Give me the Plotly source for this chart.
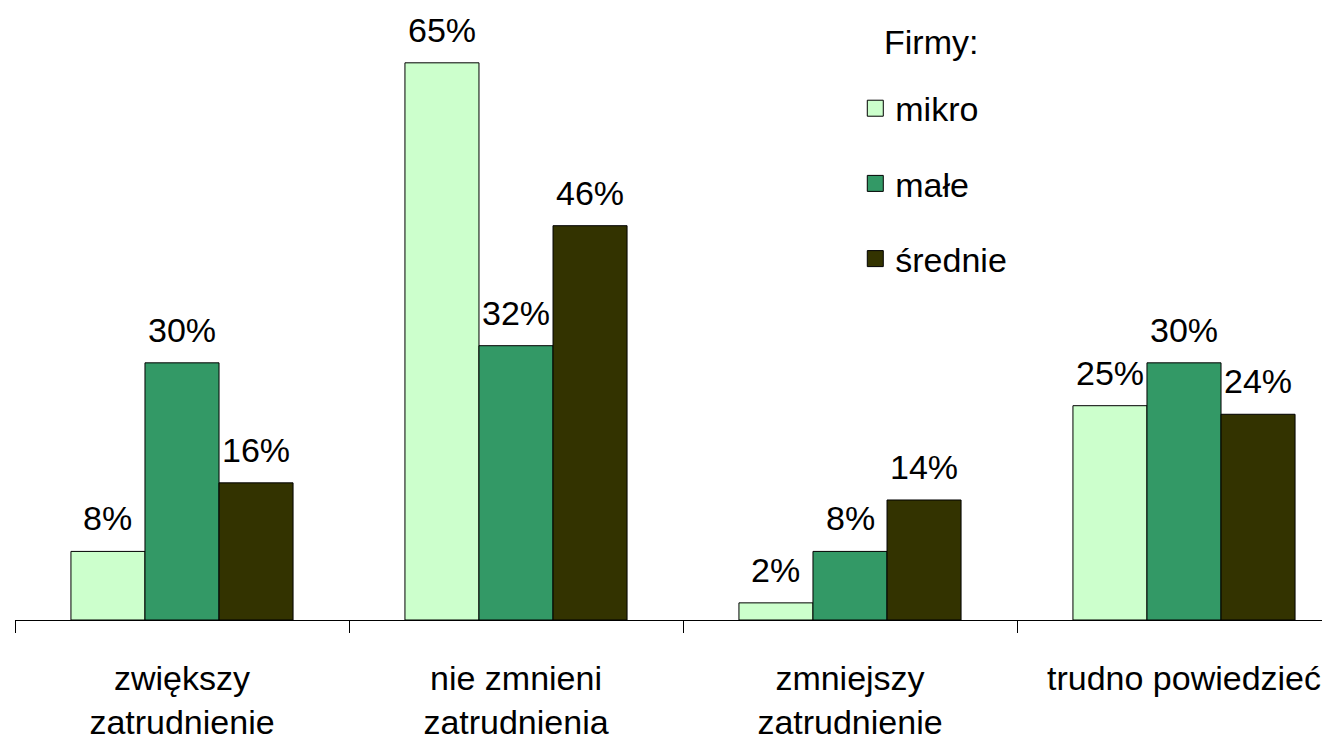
import plotly.graph_objects as go

categories = ["zwiększy<br>zatrudnienie", "nie zmnieni<br>zatrudnienia",
              "zmniejszy<br>zatrudnienie", "trudno powiedzieć"]
series_names = ["mikro", "małe", "średnie"]
mikro = [8, 65, 2, 25]
male = [30, 32, 8, 30]
srednie = [16, 46, 14, 24]
colors = ["#CCFFCC", "#339966", "#333300"]
legend_title = "Firmy:"

FONT = "Liberation Sans, Arial, sans-serif"
W, H = 1322, 733
ML, MR, MT, MB = 7, 0, 0, 119
BARGAP = 0.335
plot_w = W - ML - MR
cat_px = 334
x_span = plot_w / cat_px
bar_px = cat_px * (1 - BARGAP) / len(series_names)

fig = go.Figure()
for i, (name, vals, col) in enumerate(zip(series_names, [mikro, male, srednie], colors)):
    fig.add_trace(go.Bar(
        x=categories, y=vals, name=name,
        marker=dict(color=col, line=dict(color="#000000", width=1)),
        showlegend=False,
    ))
    fig.add_trace(go.Scatter(
        x=[None], y=[None], mode="markers", name=name, legendgroup=name,
        marker=dict(symbol="square", size=22, color=col,
                    line=dict(color="#000000", width=1)),
    ))
    for c, v in zip(categories, vals):
        fig.add_annotation(
            x=c, y=v, text=f"{v}%", showarrow=False,
            xanchor="center", yanchor="middle",
            xshift=(i - 1) * bar_px, yshift=33,
            font=dict(size=34, color="black", family=FONT),
        )

fig.add_annotation(
    xref="paper", yref="paper", x=0.6966, y=0.9446, text=legend_title,
    showarrow=False, xanchor="center", yanchor="middle",
    font=dict(size=34, color="black", family=FONT),
)

fig.update_layout(
    width=W, height=H,
    margin=dict(l=ML, r=MR, t=MT, b=MB),
    paper_bgcolor="white", plot_bgcolor="white",
    barmode="group", bargap=BARGAP, bargroupgap=0,
    font=dict(family=FONT, size=34, color="black"),
    legend=dict(
        x=0.639, y=0.883, xanchor="left", yanchor="top",
        traceorder="grouped", tracegroupgap=28,
        font=dict(size=34), bgcolor="rgba(0,0,0,0)", itemsizing="trace",
    ),
    xaxis=dict(range=[-0.5, -0.5 + x_span], showline=True, linecolor="black",
               linewidth=1, ticks="outside", tickson="boundaries", ticklen=12,
               tickcolor="black", tickfont=dict(size=34), showgrid=False,
               ticklabelstandoff=28),
    yaxis=dict(range=[0, (H - MT - MB) / 8.6], visible=False, showgrid=False),
)
fig.write_html("out.html")
